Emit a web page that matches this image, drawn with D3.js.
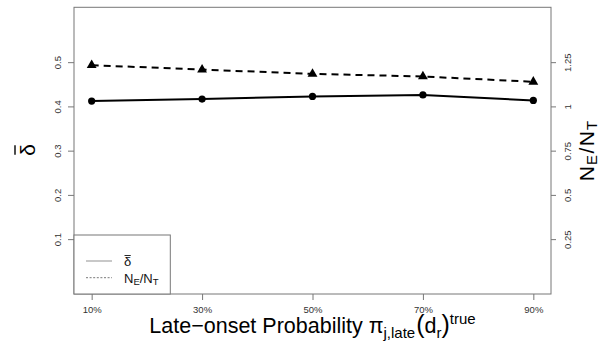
<!DOCTYPE html>
<html><head><meta charset="utf-8">
<script src="https://cdn.jsdelivr.net/npm/d3@7"></script>
<style>body{margin:0;background:#fff}svg{display:block}text{font-family:"Liberation Sans",Arial,sans-serif}</style>
</head><body><svg id="c" width="599" height="348"></svg>
<script>
const categories = [10, 30, 50, 70, 90];
const xTickLabels = ["10%", "30%", "50%", "70%", "90%"];
const deltaBar = [0.412, 0.4165, 0.4225, 0.426, 0.4135];
const neNt = [1.233, 1.208, 1.184, 1.169, 1.139];
const leftTicks = [0.1, 0.2, 0.3, 0.4, 0.5];
const rightTicks = [0.25, 0.5, 0.75, 1, 1.25];
const rightTickLabels = ["0.25", "0.5", "0.75", "1", "1.25"];

const svg = d3.select("#c");
const L = 74, R = 551, T = 7.3, B = 294;
const axisCol = "#777", labCol = "#333";

const x = d3.scaleLinear().domain([10 - 3.2, 90 + 3.2]).range([L, R]);
const yL = d3.scaleLinear().domain([-0.024, 0.624]).range([B, T]);
const yR = d3.scaleLinear().domain([-0.06, 1.56]).range([B, T]);

// box
svg.append("rect").attr("x", L).attr("y", T).attr("width", R - L).attr("height", B - T)
  .attr("fill", "none").attr("stroke", axisCol).attr("stroke-width", 1);

// bottom axis
const gx = svg.append("g").attr("transform", `translate(0,${B})`)
  .call(d3.axisBottom(x).tickValues(categories).tickFormat((d, i) => xTickLabels[i]).tickSize(6).tickPadding(6));
gx.select(".domain").remove();
gx.selectAll("line").attr("stroke", axisCol);
gx.selectAll("text").attr("fill", labCol).style("font-size", "9.5px");

// left axis
const gl = svg.append("g").attr("transform", `translate(${L},0)`)
  .call(d3.axisLeft(yL).tickValues(leftTicks).tickFormat(d3.format(".1f")).tickSize(6));
gl.select(".domain").remove();
gl.selectAll("line").attr("stroke", axisCol);
gl.selectAll("text").attr("fill", labCol).style("font-size", "9.5px")
  .attr("x", null).attr("dy", null).attr("text-anchor", "middle")
  .attr("transform", "translate(-16,0) rotate(-90)").attr("dy", "0.32em");

// right axis
const gr = svg.append("g").attr("transform", `translate(${R},0)`)
  .call(d3.axisRight(yR).tickValues(rightTicks).tickFormat((d, i) => rightTickLabels[i]).tickSize(5));
gr.select(".domain").remove();
gr.selectAll("line").attr("stroke", axisCol);
gr.selectAll("text").attr("fill", labCol).style("font-size", "9.5px")
  .attr("x", null).attr("dy", null).attr("text-anchor", "middle")
  .attr("transform", "translate(17,0) rotate(-90)").attr("dy", "0.32em");

// series: delta bar (left axis)
const pts1 = categories.map((c, i) => [x(c), yL(deltaBar[i])]);
svg.append("path").attr("d", d3.line()(pts1)).attr("fill", "none").attr("stroke", "#000").attr("stroke-width", 2);
svg.selectAll(".c1").data(pts1).join("circle").attr("cx", d => d[0]).attr("cy", d => d[1]).attr("r", 3.6).attr("fill", "#000");

// series: NE/NT (right axis)
const pts2 = categories.map((c, i) => [x(c), yR(neNt[i])]);
svg.append("path").attr("d", d3.line()(pts2)).attr("fill", "none").attr("stroke", "#000").attr("stroke-width", 2).attr("stroke-dasharray", "7,5");
svg.selectAll(".t2").data(pts2).join("path").attr("transform", d => `translate(${d[0]},${d[1]})`)
  .attr("d", d3.symbol(d3.symbolTriangle, 42)()).attr("fill", "#000");

// legend
const lg = svg.append("g");
lg.append("rect").attr("x", L).attr("y", 235).attr("width", 170.3 - L).attr("height", B - 235)
  .attr("fill", "#fff").attr("stroke", axisCol);
lg.append("line").attr("x1", 86).attr("x2", 112).attr("y1", 261).attr("y2", 261).attr("stroke", "#aaa").attr("stroke-width", 1.3);
lg.append("line").attr("x1", 86).attr("x2", 112).attr("y1", 277.7).attr("y2", 277.7).attr("stroke", "#555").attr("stroke-width", 0.8).attr("stroke-dasharray", "2,1.6");
const lt1 = lg.append("text").attr("x", 124).attr("y", 266).style("font-size", "13px").attr("fill", "#111").text("δ");
const bb1 = lt1.node().getBBox();
lg.append("line").attr("x1", bb1.x + 0.5).attr("x2", bb1.x + bb1.width - 0.5).attr("y1", 255.5).attr("y2", 255.5).attr("stroke", "#111").attr("stroke-width", 0.9);
const lt2 = lg.append("text").attr("x", 124).attr("y", 282.5).style("font-size", "13px").attr("fill", "#111");
lt2.append("tspan").text("N");
lt2.append("tspan").attr("dy", 2.5).style("font-size", "9.5px").text("E");
lt2.append("tspan").attr("dy", -2.5).text("/N");
lt2.append("tspan").attr("dy", 2.5).style("font-size", "9.5px").text("T");

// left title δ̄
const ltg = svg.append("g").attr("transform", "translate(35,150) rotate(-90)");
const dt = ltg.append("text").attr("text-anchor", "middle").attr("y", 0).style("font-size", "21px").attr("fill", "#000").text("δ");
const db = dt.node().getBBox();
ltg.append("line").attr("x1", db.x + 1).attr("x2", db.x + db.width - 1).attr("y1", -20).attr("y2", -20).attr("stroke", "#000").attr("stroke-width", 1.4);

// right title NE/NT
const rt = svg.append("text").attr("transform", "translate(594,151) rotate(-90)").attr("text-anchor", "middle")
  .style("font-size", "21px").attr("fill", "#000");
rt.append("tspan").text("N");
rt.append("tspan").attr("dy", 3).attr("dx", 1).style("font-size", "15px").text("E");
rt.append("tspan").attr("dy", -3).attr("dx", 1.5).text("/");
rt.append("tspan").attr("dx", 1.5).text("N");
rt.append("tspan").attr("dy", 3).attr("dx", 1).style("font-size", "15px").text("T");

// x title
const xt = svg.append("text").attr("x", (L + R) / 2).attr("y", 333).attr("text-anchor", "middle")
  .style("font-size", "21.5px").attr("fill", "#000");
xt.append("tspan").text("Late\u2212onset Probability \u03c0");
xt.append("tspan").attr("dy", 4.5).style("font-size", "15px").text("j,late");
xt.append("tspan").attr("dy", -4.5).attr("dx", 1).style("font-size", "25px").text("(");
xt.append("tspan").text("d");
xt.append("tspan").attr("dy", 4.5).style("font-size", "15px").text("r");
xt.append("tspan").attr("dy", -4.5).style("font-size", "25px").text(")");
xt.append("tspan").attr("dy", -9).style("font-size", "15px").text("true");
</script></body></html>
